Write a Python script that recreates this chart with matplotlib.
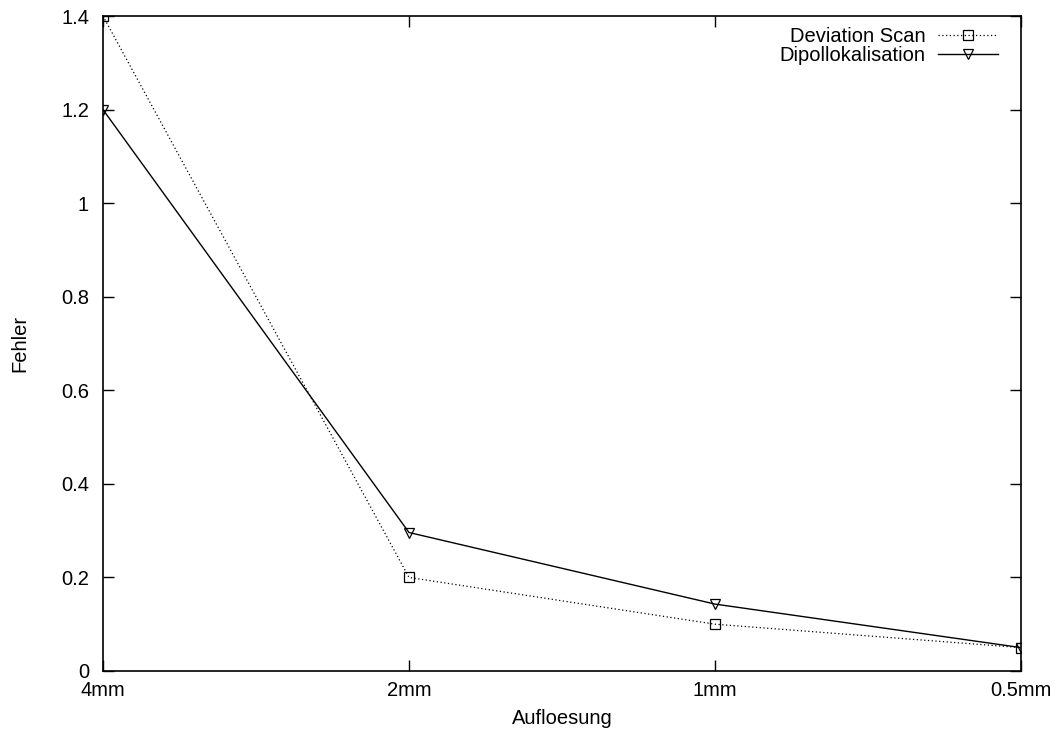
import matplotlib.pyplot as plt

plt.rcParams['font.family'] = ['Liberation Sans', 'DejaVu Sans']

# Daten
aufloesung = ['4mm', '2mm', '1mm', '0.5mm']
deviation_scan = [1.4, 0.2, 0.1, 0.05]
dipollokalisation = [1.2, 0.296, 0.143, 0.05]

fs = 14.5

fig = plt.figure(figsize=(10.57, 7.38), dpi=100)
ax = fig.add_axes([0.0974, 0.0908, 0.8686, 0.8875])

x = range(len(aufloesung))
ax.plot(x, deviation_scan, color='black', lw=0.9, linestyle=(0, (1, 2)),
        marker='s', ms=7, mfc='none', mec='black', mew=0.9, label='Deviation Scan')
ax.plot(x, dipollokalisation, color='black', lw=1.0, linestyle='-',
        marker='v', ms=7, mfc='none', mec='black', mew=0.9, label='Dipollokalisation')

ax.set_xlim(0, len(aufloesung) - 1)
ax.set_ylim(0, 1.4)
ax.set_xticks(list(x))
ax.set_xticklabels(aufloesung)
ax.set_yticks([0, 0.2, 0.4, 0.6, 0.8, 1.0, 1.2, 1.4])
ax.set_yticklabels(['0', '0.2', '0.4', '0.6', '0.8', '1', '1.2', '1.4'])
ax.tick_params(direction='in', length=8, width=1, top=True, right=True,
               labelsize=fs)
ax.tick_params(axis='y', pad=10)
ax.tick_params(axis='x', pad=7)
for s in ax.spines.values():
    s.set_linewidth(1.2)

ax.set_xlabel('Aufloesung', fontsize=fs, labelpad=7)
ax.set_ylabel('Fehler', fontsize=fs, labelpad=23)

ax.legend(loc='upper right', frameon=False, markerfirst=False, fontsize=fs,
          handlelength=3.0, handletextpad=0.6, labelspacing=0.0,
          borderaxespad=0.15, bbox_to_anchor=(0.987, 1.0))

fig.savefig('out.png', dpi=100)
